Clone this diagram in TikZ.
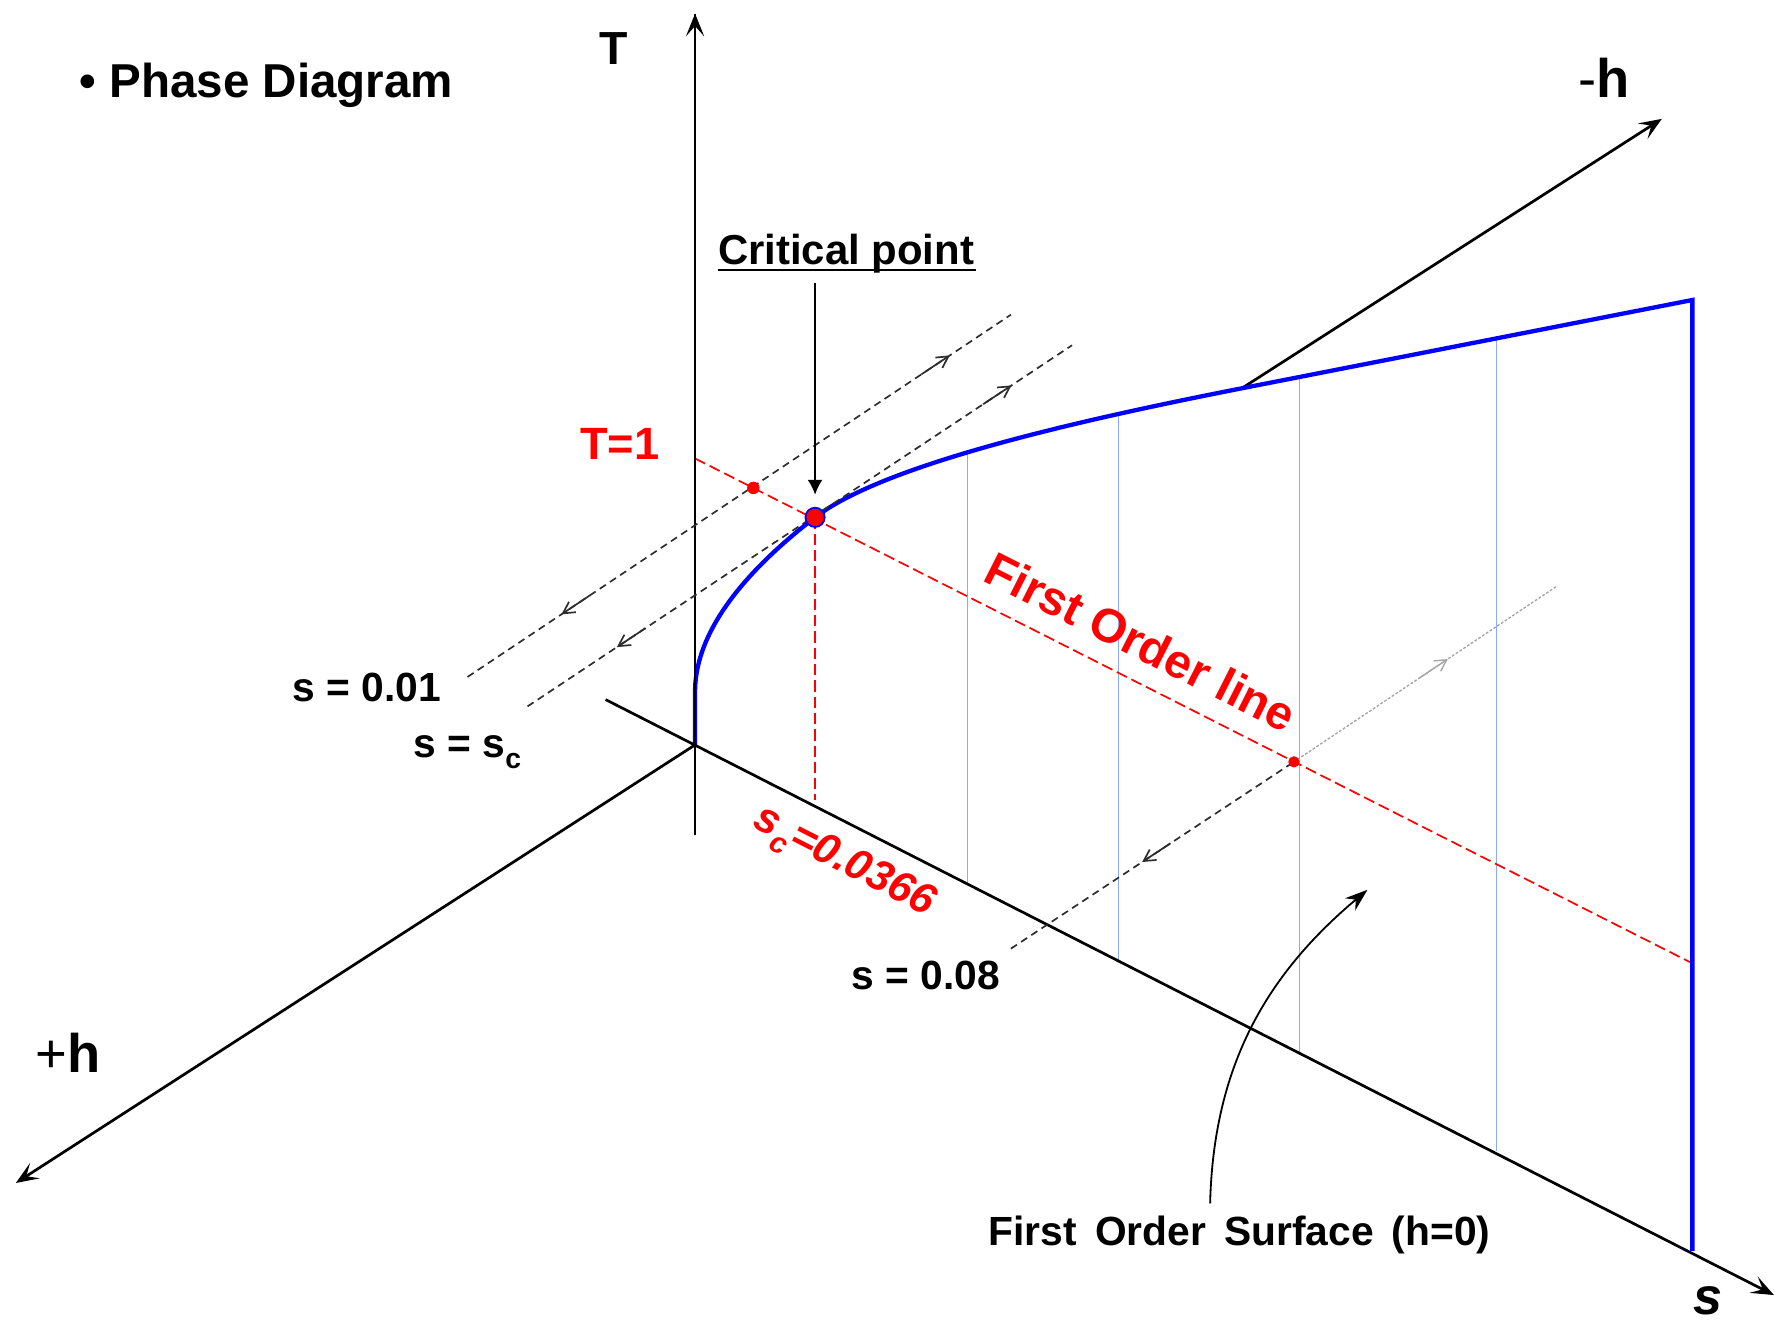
\documentclass[tikz,border=0pt]{standalone}
\usepackage{fontspec}
\setmainfont{Liberation Sans}
\usetikzlibrary{arrows.meta,calc}
\definecolor{myred}{RGB}{255,0,0}
\definecolor{myblue}{RGB}{0,0,255}
\definecolor{lightblue}{RGB}{140,170,255}
\definecolor{dashgray}{RGB}{45,45,45}
\definecolor{paledot}{RGB}{165,165,165}
\newcommand{\myfs}[1]{\fontsize{#1}{#1}\selectfont}
\begin{document}
\begin{tikzpicture}[x=0.5pt,y=-0.5pt,
  axis/.style={line width=1.2pt, black},
  axisarrow/.style={-{Stealth[length=10pt,width=8pt,inset=4.5pt]}},
  bluecurve/.style={line width=1.9pt, myblue},
  gridline/.style={line width=0.5pt, lightblue},
  reddash/.style={line width=0.75pt, myred, dash pattern=on 5pt off 2.2pt},
  blackdash/.style={line width=0.75pt, dashgray, dash pattern=on 3.2pt off 2.2pt},
  graydot/.style={line width=0.6pt, paledot, dash pattern=on 1.2pt off 0.8pt},
  flowarrow/.style={line width=0.75pt, dashgray, -{Straight Barb[length=5pt,width=5.5pt]}},
  grayflow/.style={line width=0.6pt, paledot, -{Straight Barb[length=5pt,width=5.5pt]}},
  lbl/.style={inner sep=0pt},
  reddot/.style={circle, fill=myred, inner sep=0pt, minimum size=5.5pt},
]
\useasboundingbox (0,0) rectangle (1568,1168);

% key coordinates
\coordinate (O) at (614,658);
\coordinate (Ttop) at (614,12);
\coordinate (Tbot) at (614,738);
\coordinate (hplus) at (14,1045);
\coordinate (hmstart) at (1097,343);
\coordinate (hminus) at (1468,105);
\coordinate (sstart) at (535,618);
\coordinate (send) at (1567,1144);
\coordinate (C) at (720,457);
\coordinate (E) at (1495,265);
\coordinate (Eb) at (1495,1105);
\coordinate (Cv) at (720,707);
\coordinate (R1) at (614,405);
\coordinate (R2) at (1495,851);
\coordinate (L1a) at (413,598);
\coordinate (L1b) at (893,278);
\coordinate (L2a) at (466,624);
\coordinate (L2b) at (947,305);
\coordinate (L3a) at (893,838);
\coordinate (L3m) at (1143,673);
\coordinate (L3b) at (1375,518);

% axes behind
\draw[axis] (Tbot) -- (Ttop);
\draw[axis,axisarrow] (O) -- (hplus);
\draw[axis,axisarrow] (hmstart) -- (hminus);

% surface grid lines
\draw[gridline] (855,401) -- (855,780);
\draw[gridline] (988,367) -- (988,848);
\draw[gridline] (1148,334) -- (1148,929);
\draw[gridline] (1322,300) -- (1322,1017);

% first order line and critical vertical
\draw[reddash] (R1) -- (R2);
\draw[reddash] (C) -- (Cv);

% blue boundary curve
\draw[bluecurve] (O) -- (614,611) .. controls (614,551) and (670,495.5) .. (C)
  .. controls (780,411) and (947,372.4) .. (hmstart) -- (E) -- (Eb);

% s axis
\draw[axis,axisarrow] (sstart) -- (send);
\draw[axis,axisarrow] (Tbot) -- (Ttop);

% dashed h-lines
\draw[blackdash] (L1a) -- (L1b);
\draw[blackdash] (L2a) -- (L2b);
\draw[blackdash] (L3a) -- (L3m);
\draw[graydot] (L3m) -- (L3b);

% flow arrows
\draw[flowarrow] ($(L1a)!0.8354!(L1b)$) -- ($(L1a)!0.8875!(L1b)$);
\draw[flowarrow] ($(L1a)!0.225!(L1b)$) -- ($(L1a)!0.173!(L1b)$);
\draw[flowarrow] ($(L2a)!0.8368!(L2b)$) -- ($(L2a)!0.8888!(L2b)$);
\draw[flowarrow] ($(L2a)!0.2162!(L2b)$) -- ($(L2a)!0.1642!(L2b)$);
\draw[flowarrow] ($(L3a)!0.564!(L3m)$) -- ($(L3a)!0.464!(L3m)$);
\draw[grayflow] ($(L3m)!0.478!(L3b)$) -- ($(L3m)!0.586!(L3b)$);

% dots
\node[reddot] (d1) at (665.5,431) {};
\node[reddot, minimum size=5pt] (d3) at (L3m) {};
\node[circle, fill=myred, draw=myblue, line width=0.8pt, minimum size=8.5pt, inner sep=0pt] (crit) at (C) {};

% critical point label and arrow
\node[lbl, anchor=base west, font=\bfseries\myfs{18.5}] (critlbl) at (634,234) {Critical point};
\draw[line width=1pt] (634,238.5) -- (862,238.5);
\coordinate (crittop) at (720,250);
\coordinate (crittip) at (720,437);
\draw[line width=0.75pt, -{Latex[length=6.5pt,width=6.5pt]}] (crittop) -- (crittip);

% labels
\node[lbl, anchor=base west, font=\bfseries\myfs{21}] (title) at (70,86) {• Phase Diagram};
\node[lbl, anchor=base, font=\bfseries\myfs{20.5}] (Tlbl) at (542,57) {T};
\node[lbl, anchor=base west, font=\myfs{24}] (hmlbl) at (1394,86) {-\textbf{h}};
\node[lbl, anchor=base west, font=\myfs{24}] (hplbl) at (31,947) {+\textbf{h}};
\node[lbl, anchor=base, font=\bfseries\itshape\myfs{23}] (slbl) at (1509,1161) {s};
\node[lbl, anchor=base west, font=\bfseries\myfs{20}, text=myred] (T1) at (512,406) {T=1};
\node[lbl, font=\bfseries\myfs{21}, text=myred, rotate=-26.8] (fol) at (1008,567) {First Order line};
\node[lbl, font=\bfseries\itshape\myfs{19}, text=myred, rotate=-27] (sc) at (745,763)
  {s\raisebox{-0.28em}{\myfs{13}c}=0.0366};
\node[lbl, anchor=base west, font=\bfseries\myfs{18}] (s01) at (258,620) {s = 0.01};
\node[lbl, anchor=base west, font=\bfseries\myfs{18}] (ssc) at (365,669) {s = s\raisebox{-0.28em}{\myfs{12.5}c}};
\node[lbl, anchor=base west, font=\bfseries\myfs{18}] (s08) at (752,874) {s = 0.08};
\node[lbl, anchor=base west, font=\bfseries\myfs{18}] (surf) at (873,1100)
  {First\hspace{3pt} Order\hspace{3pt} Surface\hspace{3pt} (h=0)};

% curved pointer to surface
\coordinate (surfptr) at (1069,1063);
\coordinate (surftip) at (1208,786);
\draw[line width=0.8pt, -{Stealth[length=10pt,width=7pt]}] (surfptr) .. controls (1072,940) and (1120,860) .. (surftip);
\end{tikzpicture}
\end{document}
